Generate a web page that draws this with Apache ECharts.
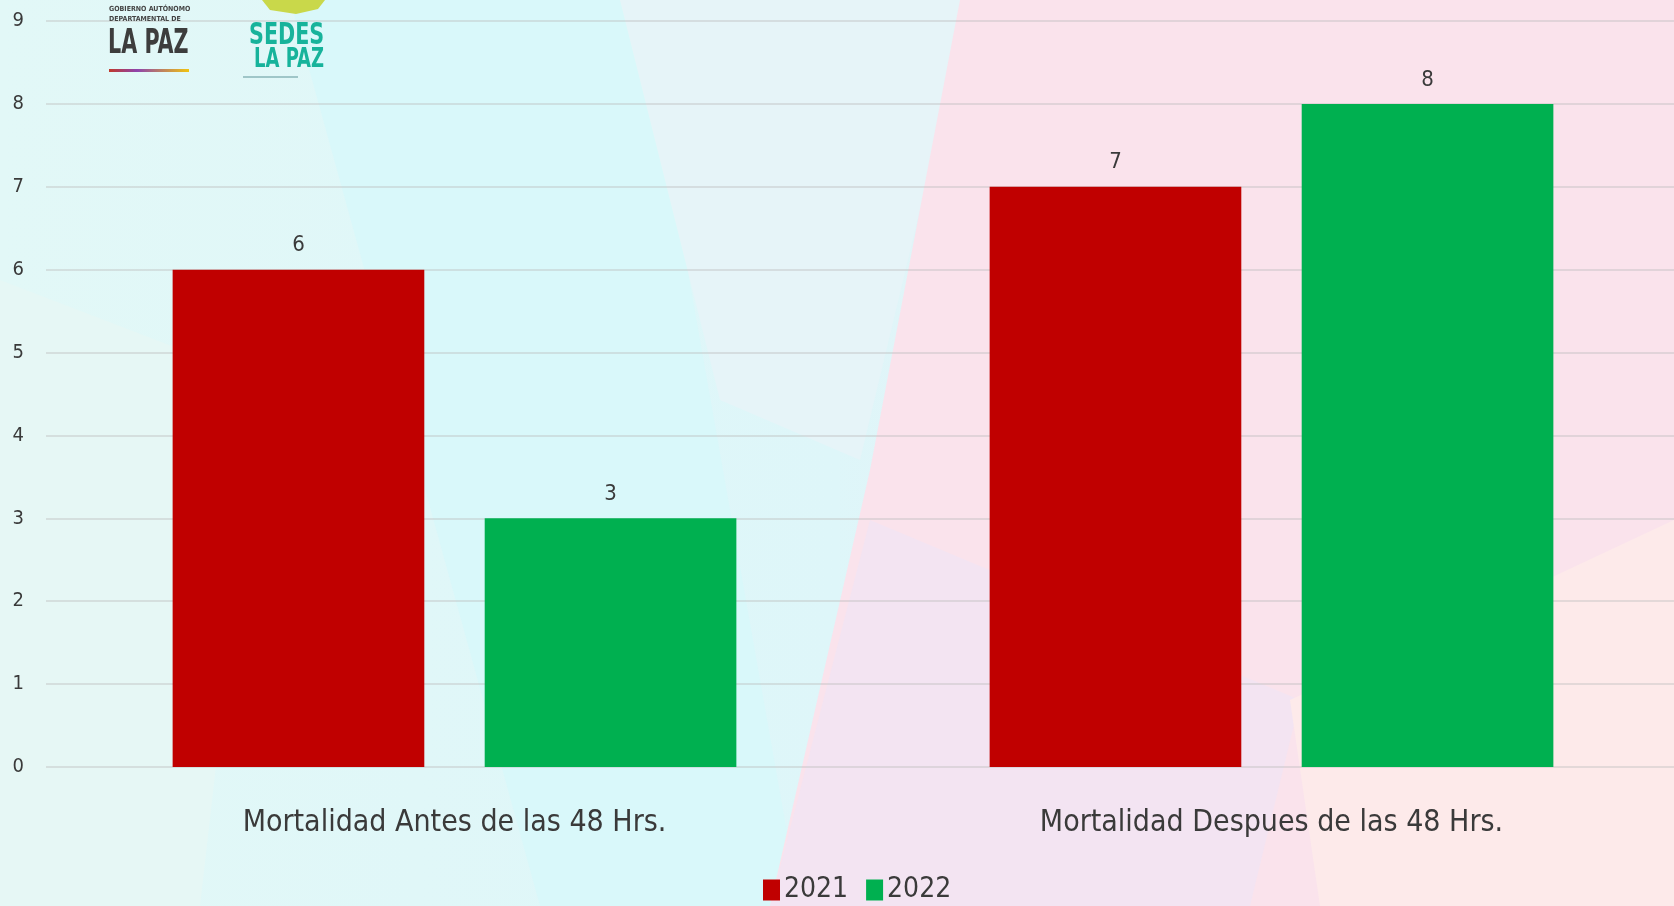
<!DOCTYPE html>
<html>
<head>
<meta charset="UTF-8">
<title>Mortalidad 2021 - 2022</title>
<style>
  * { margin: 0; padding: 0; }
  html, body { width: 100%; height: 100%; overflow: hidden; }
  #chart { width: 1674px; height: 906px; }
</style>
</head>
<body>
<div id="chart"></div>
<script src="https://cdn.jsdelivr.net/npm/echarts@6/dist/echarts.min.js"></script>
<script>
// datos
var categorias = ['Mortalidad Antes de las 48 Hrs.', 'Mortalidad Despues de las 48 Hrs.'];
var anios = ['2021', '2022'];
var datos2021 = [6, 7];
var datos2022 = [3, 8];
var ticksY = [0, 1, 2, 3, 4, 5, 6, 7, 8, 9];

var fuente = "'Liberation Sans Narrow', 'DejaVu Sans Condensed', 'Arial Narrow', sans-serif";
var colorTexto = '#3a3a3a';

var chart = echarts.init(document.getElementById('chart'));

// fondo decorativo (triangulos pastel) y logos
var fondo = [
  { type: 'rect', z: -20, shape: { x: 0, y: 0, width: 1674, height: 906 },
    style: { fill: new echarts.graphic.LinearGradient(0, 0, 1, 0, [
      { offset: 0, color: '#e2f8f7' }, { offset: 0.5, color: '#def6f9' }, { offset: 1, color: '#fbe6ee' }]) } },
  { type: 'polygon', z: -19, shape: { points: [[290, 0], [640, 0], [800, 906], [540, 906]] }, style: { fill: '#d9f8fa' } },
  { type: 'polygon', z: -19, shape: { points: [[0, 280], [260, 380], [200, 906], [0, 906]] }, style: { fill: '#e6f7f5' } },
  { type: 'polygon', z: -19, shape: { points: [[620, 0], [970, 0], [860, 460], [720, 400]] }, style: { fill: '#e6f4f8' } },
  { type: 'polygon', z: -18, shape: { points: [[960, 0], [1674, 0], [1674, 906], [770, 906], [870, 470]] }, style: { fill: '#fae3ec' } },
  { type: 'polygon', z: -18, shape: { points: [[870, 520], [1300, 700], [1250, 906], [770, 906]] }, style: { fill: '#f3e4f2' } },
  { type: 'polygon', z: -18, shape: { points: [[1674, 520], [1674, 906], [1320, 906], [1290, 700]] }, style: { fill: '#fdeaea' } },
  // logo gobernacion
  { type: 'text', z: 10, left: 109, top: 6, style: { text: 'GOBIERNO AUTÓNOMO', font: 'bold 7px ' + fuente, fill: '#444' } },
  { type: 'text', z: 10, left: 109, top: 16, style: { text: 'DEPARTAMENTAL DE', font: 'bold 7px ' + fuente, fill: '#444' } },
  { type: 'text', z: 10, x: 108, y: 28, scaleY: 1.45, style: { text: 'LA PAZ', font: 'bold 23px ' + fuente, fill: '#3d3d3d' } },
  { type: 'rect', z: 10, shape: { x: 109, y: 69, width: 80, height: 3 },
    style: { fill: new echarts.graphic.LinearGradient(0, 0, 1, 0, [
      { offset: 0, color: '#c0392b' }, { offset: 0.35, color: '#8e44ad' }, { offset: 1, color: '#f1c40f' }]) } },
  // logo sedes
  { type: 'polygon', z: 10, shape: { points: [[262, 0], [325, 0], [318, 9], [296, 14], [270, 10]] }, style: { fill: '#c9d84a' } },
  { type: 'text', z: 10, x: 249, y: 21, scaleY: 1.3, style: { text: 'SEDES', font: 'bold 23px ' + fuente, fill: '#17b39b' } },
  { type: 'text', z: 10, x: 254, y: 47, scaleY: 1.3, style: { text: 'LA PAZ', font: 'bold 20px ' + fuente, fill: '#17b39b' } },
  { type: 'rect', z: 10, shape: { x: 243, y: 76, width: 55, height: 2 }, style: { fill: '#9fc6c8' } }
];

var option = {
  animation: false,
  graphic: fondo,
  grid: { left: 46, width: 1634, top: 21, bottom: 139, outerBoundsMode: 'none' },
  legend: {
    data: anios,
    left: 758,
    top: 871,
    itemWidth: 17,
    itemHeight: 21,
    itemGap: 18,
    icon: 'rect',
    textStyle: { fontFamily: fuente, fontSize: 28, color: colorTexto, padding: [0, 0, 0, -1] }
  },
  xAxis: {
    type: 'category',
    data: categorias,
    axisLine: { show: false },
    axisTick: { show: false },
    axisLabel: { margin: 41, fontFamily: fuente, fontSize: 30, color: colorTexto }
  },
  yAxis: {
    type: 'value',
    min: 0,
    max: 9,
    interval: 1,
    axisLine: { show: false },
    axisTick: { show: false },
    splitLine: { lineStyle: { color: 'rgba(190,190,190,0.55)', width: 1.5 } },
    axisLabel: {
      margin: 22,
      fontFamily: fuente,
      fontSize: 20,
      color: colorTexto,
      formatter: function (v) { return ticksY.indexOf(v) >= 0 ? String(v) : ''; }
    }
  },
  series: [
    {
      name: anios[0],
      type: 'bar',
      data: datos2021,
      barGap: '24%',
      barCategoryGap: '31%',
      itemStyle: { color: '#c00000' },
      label: { show: true, position: 'top', distance: 13, fontFamily: fuente, fontSize: 22, color: colorTexto }
    },
    {
      name: anios[1],
      type: 'bar',
      data: datos2022,
      barGap: '24%',
      barCategoryGap: '31%',
      itemStyle: { color: '#00b050' },
      label: { show: true, position: 'top', distance: 13, fontFamily: fuente, fontSize: 22, color: colorTexto }
    }
  ]
};

chart.setOption(option);
</script>
</body>
</html>
